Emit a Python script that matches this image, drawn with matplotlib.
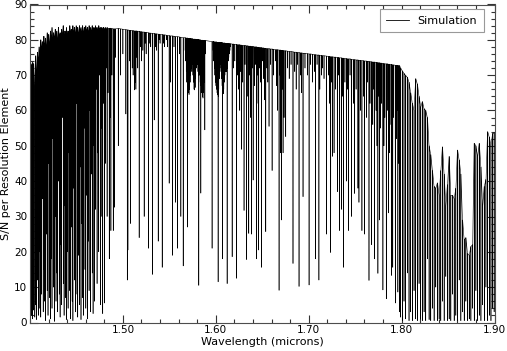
import numpy as np
import matplotlib
matplotlib.use("Agg")
import matplotlib.pyplot as plt
from matplotlib.ticker import MultipleLocator, FixedLocator

# ---- data (line centre in microns, local peak S/N, line-core S/N) ----
blue_wl = [1.4005, 1.4015, 1.4028, 1.4040, 1.4052, 1.4062, 1.4071, 1.4080, 1.4089, 1.4098,
           1.4107, 1.4116, 1.4124, 1.4133, 1.4142, 1.4150, 1.4159, 1.4168, 1.4176, 1.4185,
           1.4194, 1.4202, 1.4211, 1.4220, 1.4228, 1.4237, 1.4246, 1.4254, 1.4263, 1.4272,
           1.4280, 1.4289, 1.4298, 1.4306, 1.4315, 1.4324, 1.4332, 1.4341, 1.4350, 1.4358,
           1.4367, 1.4376, 1.4384, 1.4393, 1.4402, 1.4410, 1.4419, 1.4428, 1.4436, 1.4445,
           1.4454, 1.4462, 1.4471, 1.4480, 1.4488, 1.4497, 1.4506, 1.4514, 1.4523, 1.4532,
           1.4540, 1.4549, 1.4558, 1.4566, 1.4575, 1.4584, 1.4592, 1.4601, 1.4610, 1.4618,
           1.4627, 1.4636, 1.4644, 1.4653, 1.4662, 1.4670, 1.4679, 1.4688, 1.4696, 1.4705,
           1.4714, 1.4722, 1.4731, 1.4740, 1.4748, 1.4757, 1.4766, 1.4774, 1.4783, 1.4792,
           1.4800, 1.4810, 1.4820, 1.4830, 1.4840, 1.4853, 1.4862, 1.4871, 1.4882, 1.4896,
           1.4910, 1.4920]
blue_top = [73.5, 72.8, 73.6, 73.2, 67.0, 75.5, 70.0, 76.5, 74.0, 78.0,
            75.0, 80.0, 77.0, 79.5, 76.0, 81.0, 78.0, 80.5, 77.5, 82.0,
            79.0, 81.5, 78.5, 82.5, 80.0, 83.5, 79.0, 82.0, 80.5, 83.0,
            80.0, 82.5, 79.5, 83.5, 81.0, 82.0, 80.0, 83.0, 81.0, 84.0,
            80.5, 82.5, 81.0, 83.5, 80.0, 82.5, 81.0, 84.0, 82.0, 83.0,
            81.0, 84.0, 82.0, 83.5, 81.5, 84.0, 82.0, 83.5, 81.5, 84.0,
            82.5, 83.5, 81.5, 84.0, 82.0, 83.5, 82.0, 84.0, 82.5, 83.5,
            82.0, 84.0, 82.5, 83.5, 82.0, 84.0, 83.0, 83.5, 82.5, 84.0,
            83.0, 83.5, 82.5, 84.0, 83.0, 83.5, 83.0, 83.5, 83.0, 83.5,
            83.0, 83.5, 83.0, 83.5, 83.2, 83.2, 83.3, 83.2, 83.2, 83.1,
            83.1, 83.1]
blue_bot = [0.5, 2.0, 1.0, 3.5, 1.5, 5.0, 0.8, 12.0, 2.0, 4.0,
            20.0, 1.5, 8.0, 35.0, 3.0, 15.0, 6.0, 0.5, 25.0, 9.0,
            2.0, 45.0, 7.0, 1.0, 18.0, 4.0, 52.0, 10.0, 0.3, 30.0,
            6.0, 14.0, 3.0, 40.0, 8.0, 1.5, 22.0, 5.0, 58.0, 11.0,
            2.0, 33.0, 7.0, 0.8, 20.0, 4.0, 48.0, 9.0, 1.0, 27.0,
            6.0, 0.5, 38.0, 12.0, 3.0, 62.0, 8.0, 1.5, 19.0, 5.0,
            44.0, 0.8, 28.0, 7.0, 2.0, 55.0, 15.0, 4.0, 36.0, 1.0,
            23.0, 9.0, 60.0, 3.0, 42.0, 14.0, 2.5, 50.0, 6.0, 32.0,
            66.0, 11.0, 48.0, 20.0, 70.0, 5.0, 55.0, 30.0, 2.5, 62.0,
            5.5, 45.0, 72.0, 30.0, 65.0, 18.0, 58.0, 26.0, 70.0, 26.0,
            32.6, 75.0]

mid_wl = [1.4950, 1.4975, 1.5000, 1.5032, 1.5047, 1.5054, 1.5070, 1.5083, 1.5100, 1.5110,
          1.5125, 1.5135, 1.5140, 1.5150, 1.5160, 1.5175, 1.5190, 1.5200, 1.5215, 1.5229,
          1.5240, 1.5250, 1.5276, 1.5290, 1.5300, 1.5319, 1.5337, 1.5350, 1.5360, 1.5380,
          1.5390, 1.5400, 1.5423, 1.5440, 1.5450, 1.5470, 1.5480, 1.5498, 1.5513, 1.5534,
          1.5550, 1.5565, 1.5588, 1.5610, 1.5624, 1.5649,
          1.5670, 1.5676, 1.5682, 1.5688, 1.5694, 1.5695, 1.5700, 1.5706, 1.5712, 1.5718,
          1.5724, 1.5730, 1.5736, 1.5742, 1.5748, 1.5754, 1.5760, 1.5766, 1.5772, 1.5778,
          1.5784, 1.5790, 1.5796, 1.5802, 1.5808, 1.5814, 1.5817, 1.5820, 1.5826, 1.5832,
          1.5838, 1.5839, 1.5844, 1.5850, 1.5856, 1.5862, 1.5868, 1.5874, 1.5880, 1.5882,
          1.5886, 1.5960,
          1.5972, 1.5978, 1.5984, 1.5990, 1.5996, 1.6002, 1.6008, 1.6014, 1.6020, 1.6025,
          1.6026, 1.6032, 1.6038, 1.6044, 1.6050, 1.6056, 1.6062, 1.6068, 1.6072, 1.6074,
          1.6080, 1.6086, 1.6092, 1.6098, 1.6104, 1.6110, 1.6116, 1.6122, 1.6128, 1.6134,
          1.6140, 1.6146, 1.6152, 1.6160,
          1.6176, 1.6190, 1.6205, 1.6222, 1.6235, 1.6245, 1.6258, 1.6265, 1.6276, 1.6290,
          1.6304, 1.6315, 1.6330, 1.6345, 1.6355, 1.6365, 1.6375, 1.6384, 1.6395, 1.6402,
          1.6415, 1.6425, 1.6437, 1.6448, 1.6455, 1.6462, 1.6470, 1.6480, 1.6491, 1.6500,
          1.6515, 1.6525, 1.6538, 1.6550, 1.6560, 1.6573, 1.6590, 1.6606, 1.6620, 1.6640,
          1.6655, 1.6665, 1.6681, 1.6690, 1.6696, 1.6707, 1.6715, 1.6724, 1.6735, 1.6753,
          1.6770, 1.6790, 1.6810, 1.6831, 1.6850, 1.6865, 1.6880, 1.6896, 1.6910, 1.6925,
          1.6939, 1.6960, 1.6985, 1.7004, 1.7020, 1.7040, 1.7060, 1.7072, 1.7090, 1.7110,
          1.7120, 1.7140, 1.7150, 1.7165, 1.7190, 1.7215, 1.7225, 1.7237, 1.7245, 1.7255,
          1.7273, 1.7290, 1.7308, 1.7320, 1.7333, 1.7351, 1.7365, 1.7376, 1.7390, 1.7405,
          1.7420, 1.7430, 1.7445, 1.7459, 1.7480, 1.7495, 1.7510, 1.7530, 1.7541, 1.7555,
          1.7573, 1.7590, 1.7602, 1.7620, 1.7630, 1.7649, 1.7660, 1.7675, 1.7690, 1.7700,
          1.7710, 1.7725, 1.7735, 1.7745, 1.7755, 1.7763, 1.7775, 1.7785, 1.7799, 1.7810,
          1.7820, 1.7835, 1.7845, 1.7859, 1.7870, 1.7875, 1.7889, 1.7895, 1.7905, 1.7915,
          1.7932, 1.7945, 1.7950, 1.7960, 1.7970, 1.7978]
mid_top = [83.2, 83.1, 83.0, 82.9, 82.8, 82.8, 82.7, 82.7, 82.6, 82.6,
           82.5, 82.5, 82.5, 82.5, 82.4, 82.4, 82.3, 82.3, 82.2, 82.2,
           82.1, 82.1, 82.0, 81.9, 81.9, 81.8, 81.8, 81.7, 81.7, 81.6,
           81.6, 81.5, 81.5, 81.4, 81.4, 81.3, 81.2, 81.2, 81.1, 81.1,
           81.0, 80.9, 80.9, 80.8, 80.7, 80.6,
           80.6, 80.5, 80.5, 80.5, 80.5, 80.5, 80.4, 80.4, 80.4, 80.4,
           80.4, 80.3, 80.3, 80.3, 80.3, 80.2, 80.2, 80.2, 80.2, 80.2,
           80.1, 80.1, 80.1, 80.1, 80.1, 80.0, 80.0, 80.0, 80.0, 80.0,
           79.9, 79.9, 79.9, 79.9, 79.9, 79.8, 79.8, 79.8, 79.8, 79.8,
           79.8, 79.5,
           79.5, 79.5, 79.4, 79.4, 79.4, 79.4, 79.4, 79.3, 79.3, 79.3,
           79.3, 79.3, 79.3, 79.2, 79.2, 79.2, 79.2, 79.2, 79.1, 79.1,
           79.1, 79.1, 79.1, 79.1, 79.0, 79.0, 79.0, 79.0, 79.0, 78.9,
           78.9, 78.9, 78.9, 78.9,
           78.8, 78.8, 78.7, 78.7, 78.6, 78.6, 78.6, 78.5, 78.5, 78.4,
           78.4, 78.4, 78.3, 78.3, 78.2, 78.2, 78.2, 78.1, 78.1, 78.1,
           78.0, 78.0, 78.0, 77.9, 77.9, 77.9, 77.8, 77.8, 77.8, 77.7,
           77.7, 77.6, 77.6, 77.5, 77.5, 77.5, 77.4, 77.4, 77.3, 77.2,
           77.2, 77.2, 77.1, 77.1, 77.1, 77.0, 77.0, 77.0, 76.9, 76.9,
           76.8, 76.7, 76.7, 76.6, 76.5, 76.5, 76.4, 76.4, 76.3, 76.3,
           76.2, 76.2, 76.1, 76.0, 76.0, 75.9, 75.8, 75.8, 75.7, 75.7,
           75.6, 75.6, 75.5, 75.5, 75.4, 75.3, 75.3, 75.2, 75.2, 75.2,
           75.1, 75.1, 75.0, 75.0, 74.9, 74.9, 74.8, 74.8, 74.7, 74.7,
           74.6, 74.6, 74.6, 74.5, 74.4, 74.4, 74.3, 74.3, 74.2, 74.2,
           74.1, 74.1, 74.0, 74.0, 73.9, 73.9, 73.8, 73.8, 73.7, 73.7,
           73.7, 73.6, 73.6, 73.5, 73.5, 73.5, 73.4, 73.4, 73.3, 73.3,
           73.2, 73.2, 73.2, 73.1, 73.1, 73.0, 73.0, 73.0, 72.9, 72.9,
           72.8, 72.8, 72.8, 72.7, 72.7, 72.7]
mid_bot = [50.0, 70.0, 76.0, 59.0, 12.0, 20.5, 74.0, 28.0, 72.0, 70.0,
           65.8, 68.0, 66.0, 75.0, 72.0, 24.0, 78.0, 74.0, 77.0, 30.0,
           79.0, 76.0, 21.0, 79.0, 78.0, 13.6, 57.3, 78.0, 77.0, 23.0,
           80.0, 79.0, 15.6, 79.0, 78.0, 80.0, 78.0, 39.4, 68.0, 19.0,
           78.0, 34.0, 21.0, 76.0, 30.0, 16.0,
           77.0, 74.0, 71.0, 68.0, 66.0, 27.0, 67.0, 65.0, 64.5, 66.0,
           68.0, 70.0, 72.0, 71.0, 73.0, 70.0, 68.0, 66.0, 65.8, 66.5,
           69.0, 72.0, 74.0, 73.0, 71.0, 70.0, 10.5, 72.0, 70.0, 68.0,
           67.0, 36.6, 66.0, 65.0, 64.0, 63.5, 65.0, 68.0, 72.0, 54.5,
           76.0, 21.0,
           77.0, 74.0, 72.0, 70.0, 68.0, 67.0, 66.0, 65.0, 64.5, 11.5,
           64.0, 66.0, 69.0, 72.0, 73.0, 71.0, 69.0, 67.0, 18.0, 65.5,
           64.7, 66.0, 68.0, 70.0, 71.0, 72.0, 71.0, 11.0, 72.0, 74.0,
           75.0, 76.0, 77.0, 78.0,
           18.6, 72.0, 74.0, 12.5, 70.0, 66.0, 60.0, 71.0, 49.0, 68.0,
           31.7, 73.0, 17.8, 64.0, 25.2, 70.0, 58.0, 25.0, 72.0, 40.3,
           67.0, 73.0, 18.0, 70.0, 62.0, 20.5, 72.0, 68.0, 15.6, 74.0,
           69.0, 63.0, 25.7, 72.0, 68.0, 55.5, 73.0, 43.0, 70.0, 74.0,
           67.0, 60.0, 9.1, 70.0, 48.0, 29.0, 66.0, 48.0, 58.0, 52.6,
           72.0, 69.0, 73.0, 16.7, 71.0, 66.0, 73.0, 10.2, 70.0, 65.0,
           35.6, 72.0, 70.0, 10.6, 73.0, 68.0, 71.0, 18.0, 73.0, 12.0,
           66.0, 70.0, 72.0, 69.0, 25.0, 70.0, 62.0, 19.8, 68.0, 47.0,
           48.0, 66.0, 37.0, 70.0, 26.0, 32.0, 64.0, 15.6, 68.0, 40.0,
           66.0, 26.0, 70.0, 30.0, 62.0, 36.5, 66.0, 38.0, 34.0, 60.0,
           26.0, 64.0, 25.0, 58.0, 68.0, 11.9, 62.0, 22.0, 56.0, 66.0,
           18.0, 60.0, 50.0, 13.9, 64.0, 29.0, 55.0, 62.0, 9.2, 50.0,
           58.0, 6.7, 60.0, 31.0, 48.0, 56.0, 13.3, 52.0, 15.6, 58.0,
           5.5, 52.0, 60.0, 8.6, 45.0, 3.0]

red_wl = [1.7990, 1.8008, 1.8026, 1.8044, 1.8062, 1.8080, 1.8098, 1.8116, 1.8134, 1.8152,
          1.8170, 1.8188, 1.8206, 1.8224, 1.8242, 1.8260, 1.8278, 1.8296, 1.8314, 1.8332,
          1.8350, 1.8368, 1.8386, 1.8404, 1.8422, 1.8440, 1.8458, 1.8476, 1.8494, 1.8512,
          1.8530, 1.8548, 1.8566, 1.8584, 1.8602, 1.8620, 1.8638, 1.8656, 1.8674, 1.8692,
          1.8710, 1.8728, 1.8746, 1.8764, 1.8782, 1.8800, 1.8818, 1.8836, 1.8854, 1.8872,
          1.8890, 1.8908, 1.8926, 1.8944, 1.8962, 1.8980, 1.8996]
red_top = [72.0, 71.2, 70.5, 69.9, 69.4, 68.0, 65.0, 62.0, 60.0, 69.0,
           67.5, 64.0, 61.0, 62.5, 60.5, 60.0, 58.0, 50.0, 47.5, 43.0,
           38.5, 38.0, 39.5, 36.0, 43.0, 49.7, 42.0, 33.0, 39.0, 47.0,
           36.0, 36.0, 35.0, 38.0, 48.8, 46.0, 42.0, 29.0, 23.4, 24.0,
           19.5, 19.0, 21.5, 22.0, 50.7, 50.0, 47.0, 50.7, 44.0, 33.0,
           38.5, 40.5, 54.0, 52.5, 50.0, 53.5, 53.7]
red_bot = [1.5, 0.5, 6.0, 1.0, 14.0, 0.5, 3.0, 0.5, 9.0, 1.0,
           0.5, 11.0, 0.8, 0.5, 3.0, 0.5, 18.0, 0.8, 0.5, 4.0,
           0.5, 10.0, 0.5, 1.0, 0.5, 6.0, 0.5, 13.0, 0.5, 1.0,
           0.5, 8.0, 0.5, 2.0, 0.5, 12.0, 0.5, 3.0, 0.5, 6.0,
           0.5, 1.0, 0.5, 4.0, 0.5, 9.0, 0.5, 2.0, 0.5, 5.0,
           0.5, 10.0, 0.5, 2.0, 0.5, 4.0, 3.0]

x_ticks = [1.50, 1.60, 1.70, 1.80, 1.90]
x_ticklabels = ["1.50", "1.60", "1.70", "1.80", "1.90"]
y_ticks = [0, 10, 20, 30, 40, 50, 60, 70, 80, 90]

# ---- build the spectrum polyline: every line = shoulder / core / shoulder ----
line_wl = np.array(blue_wl + mid_wl + red_wl)
line_top = np.array(blue_top + mid_top + red_top)
line_bot = np.array(blue_bot + mid_bot + red_bot)
order = np.argsort(line_wl, kind="stable")
line_wl, line_top, line_bot = line_wl[order], line_top[order], line_bot[order]
hw = 0.00012
xs = np.column_stack([line_wl - hw, line_wl, line_wl + hw]).ravel()
ys = np.column_stack([line_top, line_bot, line_top]).ravel()

fig = plt.figure(figsize=(5.07, 3.51), dpi=100)
ax = fig.add_axes([30 / 507, 28.5 / 351, 464.5 / 507, 318 / 351])
ax.plot(xs, ys, color="black", lw=0.4, label="Simulation")

ax.set_xlim(1.40, 1.90)
ax.set_ylim(0, 90)
ax.xaxis.set_major_locator(FixedLocator(x_ticks))
ax.set_xticklabels(x_ticklabels)
ax.xaxis.set_minor_locator(MultipleLocator(0.02))
ax.yaxis.set_major_locator(FixedLocator(y_ticks))
ax.yaxis.set_minor_locator(MultipleLocator(2))
ax.tick_params(which="both", direction="in", top=True, right=True, labelsize=7.5,
               color="0.2", width=0.8, pad=2)
ax.tick_params(which="major", length=6)
ax.tick_params(which="minor", length=3)
for s in ax.spines.values():
    s.set_linewidth(0.8)
    s.set_color("0.3")
ax.set_xlabel("Wavelength (microns)", fontsize=8, labelpad=1)
ax.set_ylabel("S/N per Resolution Element", fontsize=8, labelpad=2)

leg = ax.legend(loc="upper right", bbox_to_anchor=(0.977, 0.986), borderaxespad=0,
                fontsize=8, fancybox=False, framealpha=1, edgecolor="0.6",
                borderpad=0.6, handlelength=2.0)
leg.get_frame().set_linewidth(0.8)
for h in leg.get_lines():
    h.set_linewidth(0.6)

fig.savefig("out.png", dpi=100)
